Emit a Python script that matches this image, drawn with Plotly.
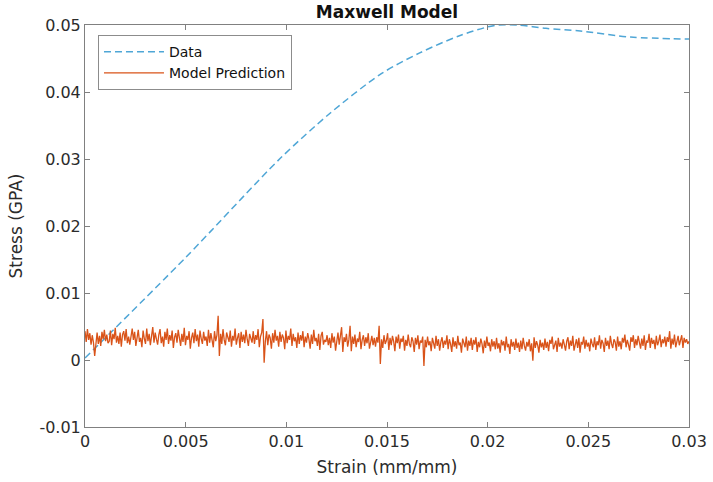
import numpy as np
import plotly.graph_objects as go

# Measured stress-strain curve
data_strain = [0.0, 0.0050, 0.0097, 0.0122, 0.0147, 0.0166, 0.0186, 0.0203,
               0.0215, 0.0229, 0.0246, 0.0271, 0.0300]
data_stress = [0.0003, 0.0153, 0.0301, 0.0369, 0.0427, 0.0458, 0.0484, 0.0499,
               0.0500, 0.0495, 0.0491, 0.0482, 0.0479]

# Maxwell model prediction, stress in units of 1e-4 GPa, uniformly sampled over strain 0..0.03
model_stress_e4 = [
    43, 27, 46, 30, 40, 23, 37, 26, 6, 29, 41, 24, 36, 21, 42, 31, 45, 28, 38, 25,
    28, 44, 22, 39, 31, 48, 26, 36, 24, 41, 20, 38, 43, 29, 46, 25, 35, 23, 40, 47,
    30, 42, 21, 37, 45, 27, 33, 19, 44, 32, 24, 47, 28, 39, 22, 36, 49, 26, 41, 31,
    23, 38, 46, 25, 35, 20, 42, 30, 47, 24, 37, 29, 44, 18, 34, 40, 26, 45, 31, 21,
    39, 27, 48, 22, 36, 30, 43, 17, 33, 41, 25, 46, 28, 38, 20, 44, 32, 24, 42, 29,
    35, 21, 45, 26, 40, 31, 19, 43, 28, 37, 66, 6, 39, 24, 46, 30, 22, 41, 34, 27,
    44, 20, 36, 29, 47, 23, 33, 40, 18, 42, 27, 38, 25, 45, 31, 21, 39, 34, 26, 43,
    24, 37, 30, 46, 19, 35, 41, 61, -4, 28, 43, 22, 38, 33, 17, 40, 26, 45, 29, 36,
    20, 42, 27, 38, 33, 16, 44, 25, 36, 30, 47, 21, 39, 28, 34, 18, 41, 24, 37, 29,
    43, 19, 35, 26, 40, 31, 17, 38, 24, 45, 28, 33, 21, 39, 15, 36, 42, 23, 30, 27,
    37, 22, 33, 18, 40, 26, 35, 14, 31, 41, 23, 36, 49, 12, 34, 27, 39, 20, 30, 51,
    13, 35, 24, 38, 19, 32, 27, 42, 16, 30, 37, 21, 34, 25, 40, 17, 29, 36, 22, 33,
    20, 34, 26, 51, -6, 31, 18, 37, 24, 29, 40, 15, 33, 22, 36, 28, 13, 35, 25, 38,
    17, 32, 27, 36, 14, 30, 21, 38, 24, 19, 34, 28, 12, 33, 23, 37, 16, 29, 26, 35,
    -9, 30, 19, 35, 22, 28, 13, 33, 25, 17, 36, 21, 31, 14, 27, 34, 18, 29, 23, 37,
    16, 31, 24, 12, 34, 20, 28, 17, 36, 22, 26, 11, 32, 25, 19, 35, 14, 29, 21, 33,
    15, 30, 23, 34, 12, 27, 19, 32, 24, 10, 29, 18, 35, 21, 26, 13, 31, 20, 28, 16,
    33, 17, 25, 11, 30, 22, 28, 14, 35, 19, 24, 9, 31, 20, 27, 15, 32, 18, 26, 12,
    29, 16, 33, 21, 14, 27, 20, 31, 13, 25, -1, 34, 18, 28, 22, 11, 30, 19, 26, 15,
    32, 18, 27, 13, 30, 24, 35, 16, 22, 29, 12, 33, 20, 26, 17, 31, 23, 14, 28, 34,
    16, 29, 21, 36, 14, 25, 31, 18, 33, 11, 27, 23, 35, 17, 30, 20, 26, 13, 32, 24,
    19, 34, 15, 28, 22, 37, 17, 30, 25, 12, 33, 21, 29, 16, 36, 24, 18, 31, 27, 14,
    35, 20, 28, 16, 33, 26, 38, 19, 30, 23, 14, 34, 27, 37, 18, 31, 22, 36, 25, 17,
    32, 21, 37, 15, 29, 26, 39, 18, 33, 24, 30, 16, 36, 22, 28, 38, 19, 31, 25, 35,
    20, 34, 27, 43, 17, 32, 23, 38, 19, 30, 36, 22, 29, 37, 18, 33, 26, 31, 24, 28,
]

x_ticks = [0, 0.005, 0.01, 0.015, 0.02, 0.025, 0.03]
x_tick_labels = ["0", "0.005", "0.01", "0.015", "0.02", "0.025", "0.03"]
y_ticks = [-0.01, 0, 0.01, 0.02, 0.03, 0.04, 0.05]
y_tick_labels = ["-0.01", "0", "0.01", "0.02", "0.03", "0.04", "0.05"]

model_strain = np.linspace(0.0, 0.03, len(model_stress_e4))
model_stress = np.array(model_stress_e4) * 1e-4

FONT = "DejaVu Sans, Liberation Sans, Arial, sans-serif"
AX_COLOR = "#808080"
TXT_COLOR = "#2b2b2b"

fig = go.Figure()
fig.add_trace(go.Scatter(
    x=data_strain, y=data_stress, mode="lines", name="Data",
    line=dict(color="#4fa6d6", width=1.5, dash="7px,4px", shape="spline", smoothing=0.8),
))
fig.add_trace(go.Scatter(
    x=model_strain, y=model_stress, mode="lines", name="Model Prediction",
    line=dict(color="#d95319", width=1.3),
))

axis_common = dict(
    showline=True, linecolor=AX_COLOR, linewidth=1, mirror="ticks",
    ticks="inside", ticklen=5, tickcolor=AX_COLOR, tickwidth=1,
    showgrid=False, zeroline=False, automargin=False,
    tickfont=dict(family=FONT, size=16, color=TXT_COLOR),
)

fig.update_layout(
    width=713, height=482, autosize=False,
    margin=dict(l=85, r=24, t=25, b=55, autoexpand=False),
    paper_bgcolor="white", plot_bgcolor="white",
    title=dict(text="<b>Maxwell Model</b>", x=0.5, xref="paper", xanchor="center",
               y=1 - 12 / 482, yanchor="middle", automargin=False,
               font=dict(family=FONT, size=17, color="#111111")),
    xaxis=dict(range=[0, 0.03], tickvals=x_ticks, ticktext=x_tick_labels,
               title=dict(text="Strain (mm/mm)", standoff=10,
                          font=dict(family=FONT, size=17, color=TXT_COLOR)),
               **axis_common),
    yaxis=dict(range=[-0.01, 0.05], tickvals=y_ticks, ticktext=y_tick_labels,
               title=dict(text="Stress (GPA)", standoff=12,
                          font=dict(family=FONT, size=17, color=TXT_COLOR)),
               **axis_common),
    legend=dict(x=0.0215, y=0.975, xanchor="left", yanchor="top",
                bgcolor="white", bordercolor="#8c8c8c", borderwidth=1,
                font=dict(family=FONT, size=14, color="#111111"),
                itemwidth=60, tracegroupgap=0),
    showlegend=True,
)

fig.write_html("out.html")
